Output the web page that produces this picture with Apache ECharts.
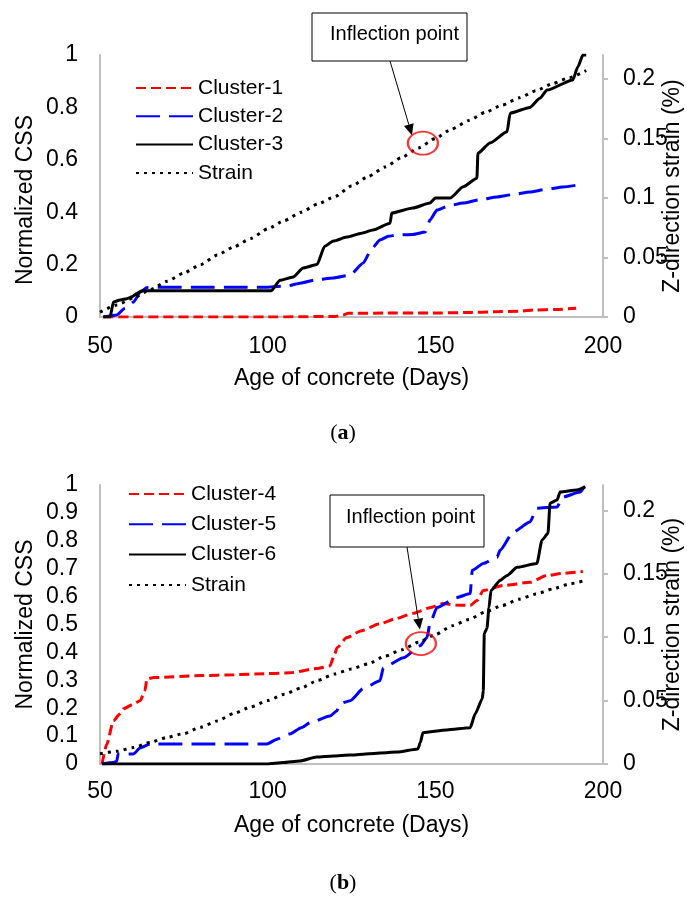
<!DOCTYPE html>
<html><head><meta charset="utf-8">
<script src="https://cdn.jsdelivr.net/npm/echarts@6/dist/echarts.min.js"></script>
<style>html,body{margin:0;padding:0;background:#fff}#c{width:687px;height:899px}</style>
</head><body><div id="c"></div>
<script>
// ---------- data ----------
const xTicks = [50, 100, 150, 200];
const leftTicksA = [0, 0.2, 0.4, 0.6, 0.8, 1];
const leftTicksB = [0, 0.1, 0.2, 0.3, 0.4, 0.5, 0.6, 0.7, 0.8, 0.9, 1];
const rightTicks = [0, 0.05, 0.1, 0.15, 0.2];

// (a)
const c1Days = [51, 60, 80, 100, 120, 122.5, 124, 135, 148, 160, 168, 175, 180, 186, 192];
const c1Vals = [0, 0, 0, 0, 0.002, 0.008, 0.014, 0.015, 0.015, 0.017, 0.02, 0.022, 0.027, 0.029, 0.033];

const c2Days = [51, 55, 57.5, 60, 62, 64, 70, 80, 90, 100, 105.7, 110, 114, 119.6, 124.6, 128.5, 131, 133.5, 136, 138.6, 143.3, 147, 148.4, 150.5, 154, 158.3, 163, 168.4, 173, 178.2, 183, 188, 192.5];
const c2Vals = [0, 0.008, 0.034, 0.057, 0.095, 0.113, 0.114, 0.114, 0.114, 0.114, 0.118, 0.13, 0.141, 0.149, 0.16, 0.206, 0.26, 0.294, 0.308, 0.313, 0.315, 0.324, 0.37, 0.408, 0.425, 0.435, 0.447, 0.458, 0.467, 0.477, 0.487, 0.496, 0.504];

const c3Days = [51, 53, 54, 56, 58, 59.5, 61, 62.5, 70, 80, 90, 101, 103.7, 107.6, 110.6, 114.7, 117, 119.6, 123.6, 128, 131.4, 136.5, 137, 143.3, 148.4, 150, 154.4, 158.3, 162.4, 162.7, 166.3, 171.4, 172.3, 178.2, 181.2, 183.3, 191, 192.5, 194, 195];
const c3Vals = [0, 0, 0.057, 0.065, 0.07, 0.077, 0.09, 0.1, 0.1, 0.1, 0.1, 0.1, 0.14, 0.153, 0.187, 0.2, 0.27, 0.29, 0.305, 0.32, 0.332, 0.358, 0.397, 0.416, 0.435, 0.454, 0.454, 0.497, 0.53, 0.625, 0.664, 0.707, 0.778, 0.8, 0.835, 0.866, 0.905, 0.955, 1.0, 1.0];

const strainADays = [50, 55, 60, 65, 70, 75, 80, 85, 90, 95, 100, 105, 110, 115, 120, 125, 130, 135, 140, 145, 150, 155, 160, 165, 170, 175, 180, 185, 190, 195];
const strainAVals = [0.004, 0.010, 0.016, 0.023, 0.030, 0.037, 0.044, 0.052, 0.059, 0.066, 0.074, 0.081, 0.088, 0.095, 0.101, 0.110, 0.118, 0.126, 0.134, 0.142, 0.150, 0.158, 0.165, 0.172, 0.178, 0.184, 0.190, 0.196, 0.201, 0.207];

// (b)
const c4Days = [50.6, 52, 54, 56, 57, 60, 62, 63.4, 64, 66, 80, 90, 100, 106.7, 114.6, 118.6, 120, 120.7, 123.6, 128, 133.5, 138, 143.3, 148.4, 152.3, 156, 160.4, 162.4, 164.3, 170.2, 178.2, 183.3, 188, 194];
const c4Vals = [0, 0.07, 0.155, 0.18, 0.198, 0.215, 0.227, 0.263, 0.305, 0.31, 0.317, 0.32, 0.324, 0.327, 0.342, 0.352, 0.395, 0.417, 0.453, 0.478, 0.503, 0.52, 0.54, 0.56, 0.575, 0.57, 0.568, 0.586, 0.622, 0.64, 0.651, 0.676, 0.683, 0.69];

const c5Days = [50.6, 54, 55, 55.4, 60, 62, 65, 70, 80, 90, 99.8, 103, 106.7, 110, 112.7, 118.6, 120.6, 121.6, 124.6, 128.5, 133.5, 134.5, 140.5, 145.5, 147.5, 148.4, 150.5, 156.4, 160.4, 161, 164.3, 168.4, 169.3, 173.2, 178.2, 180.3, 186.3, 188, 193.2, 194.7];
const c5Vals = [0, 0.005, 0.01, 0.036, 0.036, 0.058, 0.072, 0.072, 0.072, 0.072, 0.072, 0.09, 0.108, 0.13, 0.148, 0.172, 0.19, 0.216, 0.227, 0.27, 0.298, 0.345, 0.381, 0.424, 0.453, 0.503, 0.561, 0.597, 0.611, 0.694, 0.719, 0.741, 0.766, 0.831, 0.867, 0.917, 0.921, 0.957, 0.975, 1.0];

const c6Days = [50.6, 60, 70, 80, 90, 99.8, 104.6, 109.6, 114.6, 119.6, 124.6, 128.5, 138.6, 144.8, 145.5, 146.3, 153.4, 160.4, 161.9, 164, 164.3, 164.6, 165.4, 166, 166.6, 169.3, 171.4, 174.4, 180.3, 181.8, 183.6, 184.2, 186.3, 187.2, 192.2, 194.7];
const c6Vals = [0, 0, 0, 0, 0, 0, 0.005, 0.011, 0.025, 0.029, 0.032, 0.035, 0.043, 0.054, 0.076, 0.112, 0.122, 0.13, 0.18, 0.234, 0.263, 0.468, 0.486, 0.561, 0.622, 0.658, 0.676, 0.705, 0.719, 0.802, 0.827, 0.935, 0.946, 0.975, 0.982, 0.993];

const strainBDays = [50, 55, 60, 65, 70, 75, 80, 85, 90, 95, 100, 105, 110, 115, 120, 125, 130, 135, 140, 145, 150, 155, 160, 165, 170, 175, 180, 185, 190, 195];
const strainBVals = [0.008, 0.010, 0.013, 0.017, 0.021, 0.024, 0.029, 0.034, 0.040, 0.045, 0.050, 0.055, 0.060, 0.066, 0.071, 0.075, 0.079, 0.085, 0.090, 0.096, 0.102, 0.109, 0.114, 0.120, 0.125, 0.130, 0.134, 0.138, 0.142, 0.145];

// inflection points (day, strain) for (a) and (b)
const inflectionDay = [146.3, 145.7];
const inflectionStrain = [0.146, 0.095];

// ---------- chart ----------
const FONT = '"Liberation Sans", Arial, sans-serif';
const AXIS_GRAY = '#bfbfbf';
const pairs = (d, v) => d.map((x, i) => [x, v[i]]);

const chart = echarts.init(document.getElementById('c'), null, {renderer: 'canvas'});

function xAxisCfg(gi) {
  return {
    type: 'value', gridIndex: gi, min: 50, max: 200, interval: 50,
    name: 'Age of concrete (Days)', nameLocation: 'middle', nameGap: 50, nameMoveOverlap: false,
    nameTextStyle: {fontFamily: FONT, fontSize: 23, color: '#000'},
    axisLine: {show: true, onZero: false, lineStyle: {color: AXIS_GRAY, width: 2}},
    axisTick: {show: false},
    splitLine: {show: false},
    axisLabel: {fontFamily: FONT, fontSize: 23, color: '#000', margin: gi === 0 ? 18 : 16,
      customValues: xTicks}
  };
}
function leftAxisCfg(gi, ticks, interval, pad) {
  return {
    type: 'value', gridIndex: gi, position: 'left', min: 0, max: 1, interval: interval,
    name: 'Normalized CSS', nameLocation: 'middle', nameGap: 63, nameRotate: 90, nameMoveOverlap: false,
    nameTextStyle: {fontFamily: FONT, fontSize: 23, color: '#000', padding: pad},
    axisLine: {show: true, lineStyle: {color: AXIS_GRAY, width: 2}},
    axisTick: {show: false},
    splitLine: {show: false},
    axisLabel: {fontFamily: FONT, fontSize: 23, color: '#000', margin: 22, customValues: ticks}
  };
}
function rightAxisCfg(gi) {
  return {
    type: 'value', gridIndex: gi, position: 'right', min: 0, max: 0.22,
    name: 'Z-direction strain (%)', nameLocation: 'middle', nameGap: 58, nameRotate: 90, nameMoveOverlap: false,
    nameTextStyle: {fontFamily: FONT, fontSize: 23, color: '#000'},
    axisLine: {show: true, lineStyle: {color: AXIS_GRAY, width: 2}},
    axisTick: {show: true, inside: false, length: 5, lineStyle: {color: AXIS_GRAY, width: 2}, customValues: rightTicks},
    splitLine: {show: false},
    axisLabel: {fontFamily: FONT, fontSize: 23, color: '#000', margin: 20, customValues: rightTicks}
  };
}

const styles = {
  red: {color: '#ff0000', width: 3, type: [10, 5]},
  blue: {color: '#0000ff', width: 3, type: [24, 9]},
  black: {color: '#000000', width: 3, type: 'solid'},
  dot: {color: '#000000', width: 3, type: [3, 5]}
};
function lineSeries(name, data, st, xi, yi) {
  return {
    name: name, type: 'line', xAxisIndex: xi, yAxisIndex: yi, data: data,
    showSymbol: false, symbol: 'none', smooth: 0.2, smoothMonotone: 'x',
    lineStyle: st, itemStyle: {color: st.color}, animation: false, z: 3
  };
}
function circleSeries(xi, yi, idx) {
  return {
    name: 'inflection-' + idx, type: 'scatter', xAxisIndex: xi, yAxisIndex: yi,
    data: [[inflectionDay[idx], inflectionStrain[idx]]],
    symbol: 'circle', symbolSize: [30, 23],
    itemStyle: {color: 'rgba(0,0,0,0)', borderColor: '#ff0000', borderWidth: 2},
    animation: false, z: 5, silent: true
  };
}

const legendBase = {orient: 'vertical', itemWidth: 57, itemHeight: 12,
  itemStyle: {opacity: 0},
  textStyle: {fontFamily: FONT, fontSize: 21, color: '#000', lineHeight: 24}};

const option = {
  backgroundColor: '#ffffff',
  animation: false,
  grid: [
    {left: 100, right: 84, top: 55, height: 262, outerBoundsMode: 'none', containLabel: false},
    {left: 100, right: 84, top: 485, height: 279, outerBoundsMode: 'none', containLabel: false}
  ],
  xAxis: [xAxisCfg(0), xAxisCfg(1)],
  yAxis: [
    leftAxisCfg(0, leftTicksA, 0.2, [0, 28, 0, 0]),
    rightAxisCfg(0),
    leftAxisCfg(1, leftTicksB, 0.1, 0),
    rightAxisCfg(1)
  ],
  legend: [
    Object.assign({}, legendBase, {left: 130, top: 71, itemGap: 4.3,
     data: ['Cluster-1', 'Cluster-2', 'Cluster-3', 'Strain']}),
    Object.assign({}, legendBase, {left: 123, top: 477, itemGap: 6.3,
     data: ['Cluster-4', 'Cluster-5', 'Cluster-6', 'Strain ']})
  ],
  series: [
    lineSeries('Cluster-1', pairs(c1Days, c1Vals), styles.red, 0, 0),
    lineSeries('Cluster-2', pairs(c2Days, c2Vals), styles.blue, 0, 0),
    lineSeries('Cluster-3', pairs(c3Days, c3Vals), styles.black, 0, 0),
    lineSeries('Strain', pairs(strainADays, strainAVals), styles.dot, 0, 1),
    circleSeries(0, 1, 0),
    lineSeries('Cluster-4', pairs(c4Days, c4Vals), styles.red, 1, 2),
    lineSeries('Cluster-5', pairs(c5Days, c5Vals), styles.blue, 1, 2),
    lineSeries('Cluster-6', pairs(c6Days, c6Vals), styles.black, 1, 2),
    lineSeries('Strain ', pairs(strainBDays, strainBVals), styles.dot, 1, 3),
    circleSeries(1, 3, 1)
  ]
};
chart.setOption(option);

// ---------- annotations (callout boxes, arrows, captions) ----------
function arrow(x1, y1, x2, y2) {
  const dx = x2 - x1, dy = y2 - y1, L = Math.hypot(dx, dy);
  const ux = dx / L, uy = dy / L, hl = 11, hw = 5;
  const bx = x2 - ux * hl, by = y2 - uy * hl;
  return [
    {type: 'line', shape: {x1: x1, y1: y1, x2: bx, y2: by}, style: {stroke: '#000', lineWidth: 1}, z: 10},
    {type: 'polygon', shape: {points: [[x2, y2], [bx - uy * hw, by + ux * hw], [bx + uy * hw, by - ux * hw]]},
     style: {fill: '#000'}, z: 10}
  ];
}
const pA = chart.convertToPixel({xAxisIndex: 0, yAxisIndex: 1}, [inflectionDay[0], inflectionStrain[0]]);
const pB = chart.convertToPixel({xAxisIndex: 1, yAxisIndex: 3}, [inflectionDay[1], inflectionStrain[1]]);

const graphics = [
  {type: 'rect', shape: {x: 312, y: 13, width: 155, height: 48}, style: {fill: '#fff', stroke: '#000', lineWidth: 1}, z: 10},
  {type: 'text', x: 330, y: 34, style: {text: 'Inflection point', font: '20px ' + FONT, fill: '#000', textAlign: 'left', textVerticalAlign: 'middle'}, z: 11},
  ...arrow(390, 61, pA[0] - 11, pA[1] - 8),
  {type: 'rect', shape: {x: 330, y: 495, width: 154, height: 52}, style: {fill: '#fff', stroke: '#000', lineWidth: 1}, z: 10},
  {type: 'text', x: 346, y: 517, style: {text: 'Inflection point', font: '20px ' + FONT, fill: '#000', textAlign: 'left', textVerticalAlign: 'middle'}, z: 11},
  ...arrow(407, 547, pB[0] - 1, pB[1] - 14),
  {type: 'text', x: 343, y: 433, style: {
    text: '({b|a})', textAlign: 'center', textVerticalAlign: 'middle',
    font: '22px "Liberation Serif", serif', fill: '#000',
    rich: {b: {fontFamily: '"Liberation Serif", serif', fontWeight: 'bold', fontSize: 22}}
  }, z: 11},
  {type: 'text', x: 343, y: 883, style: {
    text: '({b|b})', textAlign: 'center', textVerticalAlign: 'middle',
    font: '22px "Liberation Serif", serif', fill: '#000',
    rich: {b: {fontFamily: '"Liberation Serif", serif', fontWeight: 'bold', fontSize: 22}}
  }, z: 11}
];
chart.setOption({graphic: graphics});
</script>
</body></html>
